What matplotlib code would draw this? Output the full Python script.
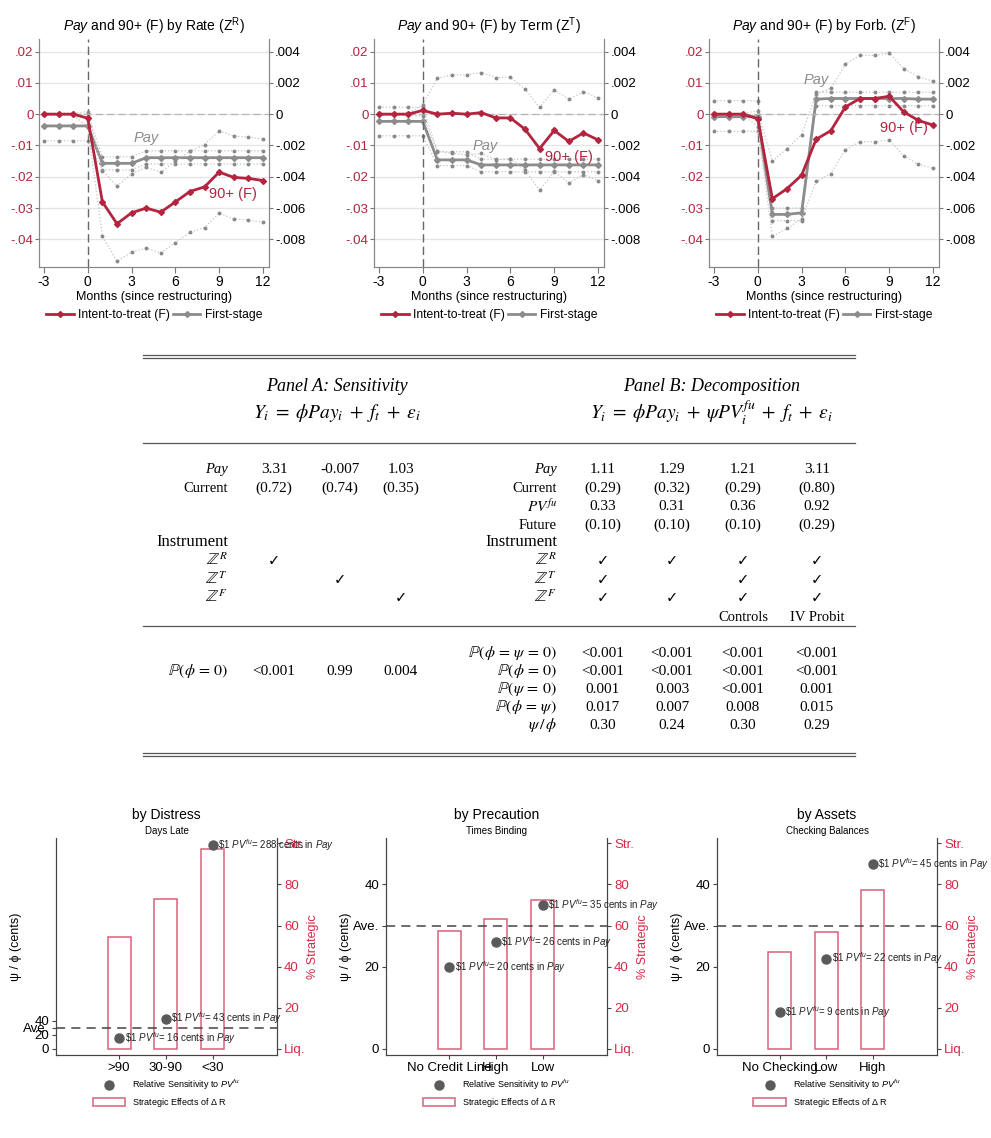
import matplotlib
matplotlib.use("Agg")
import matplotlib.pyplot as plt
from matplotlib.lines import Line2D
from matplotlib.patches import Patch

plt.rcParams["font.family"] = ["Liberation Sans", "DejaVu Sans"]
plt.rcParams["mathtext.fontset"] = "custom"
plt.rcParams["mathtext.rm"] = "Liberation Sans"
plt.rcParams["mathtext.it"] = "Liberation Sans:italic"
plt.rcParams["mathtext.bf"] = "Liberation Sans:bold"
plt.rcParams["axes.unicode_minus"] = False

W, H = 991, 1138
RED = "#b3243e"
GRAY = "#8c8c8c"
CRIMSON = "#d42a45"
PINK = "#d9607a"

# ---- event-study data (left axis: ITT, right axis: first stage) ----
months = [-3, -2, -1, 0, 1, 2, 3, 4, 5, 6, 7, 8, 9, 10, 11, 12]

itt_rate = [0, 0, 0, -0.0013, -0.028, -0.035, -0.0315, -0.030, -0.0313, -0.028, -0.0247, -0.0232, -0.0185, -0.0202, -0.0205, -0.0212]
itt_rate_lo = [-0.0003, -0.0003, -0.0003, -0.004, -0.039, -0.047, -0.044, -0.0428, -0.0443, -0.041, -0.0377, -0.0362, -0.0316, -0.0335, -0.0338, -0.0345]
itt_rate_hi = [0.0003, 0.0003, 0.0003, 0.0008, -0.018, -0.023, -0.019, -0.017, -0.0185, -0.015, -0.0118, -0.0097, -0.0053, -0.007, -0.0073, -0.008]
fs_rate = [-0.00075, -0.00075, -0.00075, -0.00075, -0.00314, -0.00314, -0.00314, -0.00278, -0.00278, -0.00278, -0.00278, -0.00278, -0.00278, -0.00278, -0.00278, -0.00278]
fs_rate_lo = [-0.0017, -0.0017, -0.0017, -0.0017, -0.00356, -0.00356, -0.00356, -0.00318, -0.00318, -0.00318, -0.00318, -0.00318, -0.00318, -0.00318, -0.00318, -0.00318]
fs_rate_hi = [0.0, 0.0, 0.0, 0.0, -0.00272, -0.00272, -0.00272, -0.00234, -0.00234, -0.00234, -0.00234, -0.00234, -0.00234, -0.00234, -0.00234, -0.00234]

itt_term = [0, 0, 0, 0.0012, 0, 0.0003, 0, 0.0005, -0.0012, -0.0012, -0.0048, -0.011, -0.0052, -0.0087, -0.006, -0.0082]
itt_term_lo = [-0.0003, -0.0003, -0.0003, -0.0006, -0.0118, -0.0125, -0.013, -0.0125, -0.0145, -0.0143, -0.0178, -0.0243, -0.0183, -0.022, -0.0193, -0.0212]
itt_term_hi = [0.0003, 0.0003, 0.0003, 0.003, 0.0115, 0.0125, 0.0126, 0.0133, 0.0117, 0.0118, 0.008, 0.0022, 0.0078, 0.0047, 0.0072, 0.0052]
fs_term = [-0.00046, -0.00046, -0.00046, -0.00046, -0.00292, -0.00292, -0.00292, -0.00324, -0.00324, -0.00324, -0.00324, -0.00324, -0.00324, -0.00324, -0.00324, -0.00324]
fs_term_lo = [-0.00138, -0.00138, -0.00138, -0.00138, -0.00328, -0.00328, -0.00328, -0.00368, -0.00368, -0.00368, -0.00368, -0.00368, -0.00368, -0.00368, -0.00368, -0.00368]
fs_term_hi = [0.00044, 0.00044, 0.00044, 0.00044, -0.00240, -0.00240, -0.00240, -0.00288, -0.00288, -0.00288, -0.00288, -0.00288, -0.00288, -0.00288, -0.00288, -0.00288]

itt_forb = [0, 0, 0, -0.0015, -0.027, -0.0238, -0.0195, -0.008, -0.0053, 0.0023, 0.005, 0.005, 0.0057, 0.0007, -0.002, -0.0035]
itt_forb_lo = [-0.0003, -0.0003, -0.0003, -0.004, -0.039, -0.0365, -0.0335, -0.0215, -0.019, -0.0113, -0.0088, -0.0088, -0.0083, -0.0133, -0.016, -0.0173]
itt_forb_hi = [0.0003, 0.0003, 0.0003, 0.001, -0.015, -0.011, -0.0065, 0.0065, 0.0082, 0.016, 0.0188, 0.0188, 0.0195, 0.0145, 0.012, 0.0105]
fs_forb = [-0.00016, -0.00016, -0.00016, -0.00016, -0.0064, -0.0064, -0.0063, 0.00096, 0.001, 0.001, 0.001, 0.001, 0.001, 0.001, 0.00096, 0.00096]
fs_forb_lo = [-0.0011, -0.0011, -0.0011, -0.0011, -0.0068, -0.0068, -0.0068, 0.00054, 0.00054, 0.00054, 0.00054, 0.00054, 0.00054, 0.00054, 0.00054, 0.00054]
fs_forb_hi = [0.00086, 0.00086, 0.00086, 0.00086, -0.006, -0.006, -0.006, 0.0014, 0.0014, 0.0014, 0.0014, 0.0014, 0.0014, 0.0014, 0.0014, 0.0014]

left_ticks = [0.02, 0.01, 0, -0.01, -0.02, -0.03, -0.04]
left_labels = [".02", ".01", "0", "-.01", "-.02", "-.03", "-.04"]
right_ticks = [0.004, 0.002, 0, -0.002, -0.004, -0.006, -0.008]
right_labels = [".004", ".002", "0", "-.002", "-.004", "-.006", "-.008"]

# ---- table data ----
a_est = ["3.31", "-0.007", "1.03"]
a_se = ["(0.72)", "(0.74)", "(0.35)"]
a_checks = [[1, 0, 0], [0, 1, 0], [0, 0, 1]]
a_p = ["<0.001", "0.99", "0.004"]

b_pay = ["1.11", "1.29", "1.21", "3.11"]
b_pay_se = ["(0.29)", "(0.32)", "(0.29)", "(0.80)"]
b_pv = ["0.33", "0.31", "0.36", "0.92"]
b_pv_se = ["(0.10)", "(0.10)", "(0.10)", "(0.29)"]
b_checks = [[1, 1, 1, 1], [1, 0, 1, 1], [1, 1, 1, 1]]
b_notes = ["", "", "Controls", "IV Probit"]
b_p_labels = [r"$\mathbb{P}(\phi \,=\, \psi \,=\, 0)$", r"$\mathbb{P}(\phi \,=\, 0)$", r"$\mathbb{P}(\psi \,=\, 0)$",
              r"$\mathbb{P}(\phi \,=\, \psi)$", r"$\psi\,/\,\phi$"]
b_p = [["<0.001", "<0.001", "<0.001", "<0.001"],
       ["<0.001", "<0.001", "<0.001", "<0.001"],
       ["0.001", "0.003", "<0.001", "0.001"],
       ["0.017", "0.007", "0.008", "0.015"],
       ["0.30", "0.24", "0.30", "0.29"]]

# ---- heterogeneity data ----
ave = 30
dist_groups = [">90", "30-90", "<30"]
dist_sens = [16, 43, 288]
dist_strat = [54.7, 73, 97.3]
prec_groups = ["No Credit Line", "High", "Low"]
prec_sens = [20, 26, 35]
prec_strat = [57.5, 63.2, 72.4]
asset_groups = ["No Checking", "Low", "High"]
asset_sens = [9, 22, 45]
asset_strat = [47, 56.7, 77.1]

fig = plt.figure(figsize=(W / 100, H / 100), dpi=100)


def add_px(l, t, r, b):
    return fig.add_axes([l / W, 1 - b / H, (r - l) / W, (b - t) / H])


def event_panel(box, title, itt, itt_lo, itt_hi, fs, fs_lo, fs_hi, pay_xy, f_xy):
    ax = add_px(*box)
    ax2 = ax.twinx()
    ax.set_zorder(ax2.get_zorder() + 1)
    ax.patch.set_visible(False)
    ax.set_xlim(-3.34, 12.41)
    ax.set_ylim(-0.0488, 0.024)
    ax2.set_ylim(-0.00976, 0.0048)

    ax.set_xticks([-3, 0, 3, 6, 9, 12])
    ax.set_yticks(left_ticks)
    ax.set_yticklabels(left_labels)
    ax2.set_yticks(right_ticks)
    ax2.set_yticklabels(right_labels)
    ax2.grid(True, color="#e4e4e4", lw=0.9)
    ax2.set_axisbelow(True)

    ax.axvline(0, color="#666666", ls=(0, (6, 3)), lw=1)
    ax.axhline(0, color="#b5b5b5", ls=(0, (6, 3)), lw=0.9)

    ci_style = dict(ls=":", color="#c4c4c4", lw=0.9, marker="o", ms=1.8, mfc="#8a8a8a", mec="#8a8a8a")
    for s in (fs_lo, fs_hi):
        ax2.plot(months, s, **ci_style)
    ax2.plot(months, fs, color=GRAY, lw=2, marker="D", ms=3)
    for s in (itt_lo, itt_hi):
        ax.plot(months, s, **ci_style)
    ax.plot(months, itt, color=RED, lw=2, marker="D", ms=3)

    ax.text(*pay_xy, "Pay", color=GRAY, style="italic", fontsize=10.5, ha="center", va="center")
    ax.text(*f_xy, "90+ (F)", color=RED, fontsize=10.5, ha="center", va="center")

    ax.set_title(title, fontsize=10, pad=6)
    ax.set_xlabel("Months (since restructuring)", fontsize=9, labelpad=1)
    ax.tick_params(axis="x", labelsize=10, colors="#777777", labelcolor="black", length=4, pad=2)
    ax.tick_params(axis="y", labelsize=9.5, colors="#777777", labelcolor=RED, length=3, pad=1)
    ax2.tick_params(axis="y", labelsize=9.5, colors="#777777", labelcolor="black", length=3, pad=1.5)
    for a in (ax, ax2):
        a.spines["top"].set_visible(False)
        for sp in ("left", "right", "bottom"):
            a.spines[sp].set_color("#888888")
    handles = [Line2D([], [], color=RED, lw=2, marker="D", ms=3),
               Line2D([], [], color=GRAY, lw=2, marker="D", ms=3)]
    ax.legend(handles, ["Intent-to-treat (F)", "First-stage"], loc="center", bbox_to_anchor=(0.5, -0.21),
              ncol=2, frameon=False, fontsize=8.7, handlelength=2.3, handletextpad=0.35, columnspacing=0.25)


event_panel((39, 39, 269, 267), r"$\mathit{Pay}$ and 90+ (F) by Rate (Z$^\mathrm{R}$)",
            itt_rate, itt_rate_lo, itt_rate_hi, fs_rate, fs_rate_lo, fs_rate_hi, (4.0, -0.0077), (9.95, -0.0256))
event_panel((374, 39, 604, 267), r"$\mathit{Pay}$ and 90+ (F) by Term (Z$^\mathrm{T}$)",
            itt_term, itt_term_lo, itt_term_hi, fs_term, fs_term_lo, fs_term_hi, (4.3, -0.0101), (10.0, -0.0136))
event_panel((709, 39, 939, 267), r"$\mathit{Pay}$ and 90+ (F) by Forb. (Z$^\mathrm{F}$)",
            itt_forb, itt_forb_lo, itt_forb_hi, fs_forb, fs_forb_lo, fs_forb_hi, (4.0, 0.011), (10.0, -0.0043))

# ---- table in the middle ----
tab = fig.add_axes([0, 0, 1, 1])
tab.set_xlim(0, W)
tab.set_ylim(H, 0)
tab.axis("off")
SERIF = ["Liberation Serif", "DejaVu Serif"]


def cell(x, y, s, ha="center", size=11, style="normal"):
    tab.text(x, y, s, ha=ha, va="center", fontsize=size, family=SERIF, style=style, math_fontfamily="stix")


def check(x, y):
    tab.text(x, y, "\u2713", ha="center", va="center", fontsize=10.5, family="DejaVu Sans")


for y in (355, 358, 443, 626, 753, 756):
    tab.plot([143, 855], [y, y], color="#555555", lw=0.9)

cell(337, 386, "Panel A: Sensitivity", size=13, style="italic")
cell(337, 413, r"$Y_i \;=\; \phi Pay_i \;+\; f_t \;+\; \varepsilon_i$", size=14)
cell(712, 386, "Panel B: Decomposition", size=13, style="italic")
cell(712, 413, r"$Y_i \;=\; \phi Pay_i \;+\; \psi PV_i^{fu} \;+\; f_t \;+\; \varepsilon_i$", size=14)

row_y = {"pay": 469, "cur": 488, "pv": 506, "fut": 525, "ins": 542, "zr": 561, "zt": 580, "zf": 598, "note": 617}
z_labels = [r"$\mathbb{Z}^R$", r"$\mathbb{Z}^T$", r"$\mathbb{Z}^F$"]

a_lab, a_cols = 228, [274, 340, 401]
cell(a_lab, row_y["pay"], "Pay", ha="right", size=10.5, style="italic")
cell(a_lab, row_y["cur"], "Current", ha="right", size=10.5)
cell(a_lab, row_y["ins"], "Instrument", ha="right", size=12)
for k, key in enumerate(("zr", "zt", "zf")):
    cell(a_lab, row_y[key], z_labels[k], ha="right", size=11.5)
for j, x in enumerate(a_cols):
    cell(x, row_y["pay"], a_est[j])
    cell(x, row_y["cur"], a_se[j])
    for k, key in enumerate(("zr", "zt", "zf")):
        if a_checks[k][j]:
            check(x, row_y[key])
    cell(x, 671, a_p[j])
cell(a_lab, 671, r"$\mathbb{P}(\phi \,=\, 0)$", ha="right", size=11.5)

b_lab, b_cols = 557, [603, 672, 743, 817]
cell(b_lab, row_y["pay"], "Pay", ha="right", size=10.5, style="italic")
cell(b_lab, row_y["cur"], "Current", ha="right", size=10.5)
cell(b_lab, row_y["pv"], r"$PV^{fu}$", ha="right", size=11)
cell(b_lab, row_y["fut"], "Future", ha="right", size=10.5)
cell(b_lab, row_y["ins"], "Instrument", ha="right", size=12)
for k, key in enumerate(("zr", "zt", "zf")):
    cell(b_lab, row_y[key], z_labels[k], ha="right", size=11.5)
p_rows = [653, 671, 689, 707, 725]
for i, lab in enumerate(b_p_labels):
    cell(b_lab, p_rows[i], lab, ha="right", size=11.5)
for j, x in enumerate(b_cols):
    cell(x, row_y["pay"], b_pay[j])
    cell(x, row_y["cur"], b_pay_se[j])
    cell(x, row_y["pv"], b_pv[j])
    cell(x, row_y["fut"], b_pv_se[j])
    for k, key in enumerate(("zr", "zt", "zf")):
        if b_checks[k][j]:
            check(x, row_y[key])
    cell(x, row_y["note"], b_notes[j], size=10.5)
    for i in range(len(p_rows)):
        cell(x, p_rows[i], b_p[i][j])


# ---- heterogeneity panels ----
def hetero_panel(box, title, subtitle, groups, sens, strat, left_top, left_ticks_b):
    ax = add_px(*box)
    ax2 = ax.twinx()
    ax.set_zorder(ax2.get_zorder() + 1)
    ax.patch.set_visible(False)
    pos = [1, 2, 3]
    ax.set_xlim(-0.35, 4.38)
    ax2.set_ylim(-2.92, 102.6)
    ax.set_ylim(-2.92 * left_top / 100, 102.6 * left_top / 100)

    ax2.bar(pos, strat, width=0.49, facecolor="none", edgecolor=PINK, lw=1.1)
    ax.axhline(ave, color="#444444", ls=(0, (6, 4)), lw=1.1)
    ax.plot(pos, sens, ls="none", marker="o", ms=6.5, color="#5a5a5a")
    for x, v in zip(pos, sens):
        ax.annotate(r"\$1 $PV^{fu}$= %d cents in $Pay$" % v, (x, v), xytext=(4, 0),
                    textcoords="offset points", ha="left", va="center", fontsize=7, color="#222222")

    ax.set_xticks(pos)
    ax.set_xticklabels(groups)
    ax.set_yticks(left_ticks_b + [ave])
    ax.set_yticklabels([str(t) for t in left_ticks_b] + ["Ave."])
    ax2.set_yticks([0, 20, 40, 60, 80, 100])
    ax2.set_yticklabels(["Liq.", "20", "40", "60", "80", "Str."])
    ax.tick_params(axis="x", labelsize=9.5, length=3, colors="#444444", labelcolor="black", pad=2)
    ax.tick_params(axis="y", labelsize=9.5, length=3, colors="#444444", labelcolor="black", pad=2)
    ax2.tick_params(axis="y", labelsize=9.5, length=3, colors="#444444", labelcolor=CRIMSON, pad=2)
    for a in (ax, ax2):
        a.spines["top"].set_visible(False)
        for sp in ("left", "right", "bottom"):
            a.spines[sp].set_color("#444444")
    ax.set_ylabel("\u03c8 / \u03d5 (cents)", fontsize=9)
    ax.yaxis.set_label_coords(-0.155, 0.5)
    ax2.set_ylabel("% Strategic", fontsize=9, color=CRIMSON)
    ax2.yaxis.set_label_coords(1.135, 0.5)
    ax.text(0.5, 1.106, title, transform=ax.transAxes, ha="center", va="center", fontsize=10)
    ax.text(0.5, 1.032, subtitle, transform=ax.transAxes, ha="center", va="center", fontsize=7)
    handles = [Line2D([], [], ls="none", marker="o", ms=6.5, color="#5a5a5a"),
               Patch(facecolor="white", edgecolor=PINK, lw=1.1)]
    ax.legend(handles, [r"Relative Sensitivity to $PV^{fu}$", r"Strategic Effects of $\Delta$ R"],
              loc="center", bbox_to_anchor=(0.5, -0.177), frameon=False, fontsize=6.5,
              handlelength=3.6, handleheight=0.9, handletextpad=0.8, labelspacing=0.45)


hetero_panel((56, 838, 277, 1055), "by Distress", "Days Late", dist_groups, dist_sens, dist_strat, 290, [0, 20, 40])
hetero_panel((386, 838, 607, 1055), "by Precaution", "Times Binding", prec_groups, prec_sens, prec_strat, 50, [0, 20, 40])
hetero_panel((717, 838, 937, 1055), "by Assets", "Checking Balances", asset_groups, asset_sens, asset_strat, 50, [0, 20, 40])

fig.savefig("out.png", dpi=100, facecolor="white")
